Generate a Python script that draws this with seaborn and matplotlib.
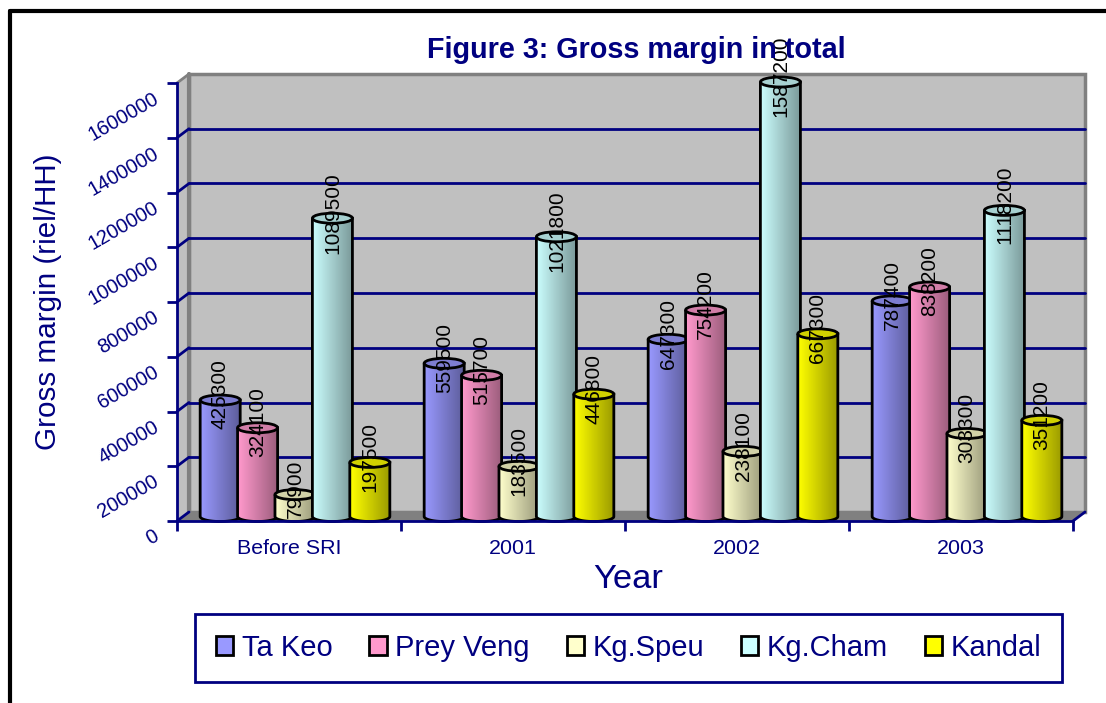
import numpy as np
import pandas as pd
import seaborn as sns
import matplotlib.pyplot as plt
from matplotlib.colors import to_rgb
from matplotlib.lines import Line2D
from matplotlib.patches import Ellipse, PathPatch, Polygon, Rectangle
from matplotlib.path import Path
from matplotlib.transforms import ScaledTranslation

years = ['Before SRI', '2001', '2002', '2003']
provinces = ['Ta Keo', 'Prey Veng', 'Kg.Speu', 'Kg.Cham', 'Kandal']
ta_keo = [425300, 559500, 647300, 787400]
prey_veng = [324100, 515700, 754200, 838200]
kg_speu = [79900, 183500, 238100, 303300]
kg_cham = [1089500, 1021800, 1587200, 1118200]
kandal = [197500, 446800, 667300, 351200]
colors = ['#9999FF', '#FF99CC', '#FFFFCC', '#CCFFFF', '#FFFF00']
y_ticks = [0, 200000, 400000, 600000, 800000, 1000000, 1200000, 1400000, 1600000]

NAVY = '#000080'
W, H = 1106, 703

df = pd.DataFrame({
    'year': years * 5,
    'province': np.repeat(provinces, 4),
    'gross': ta_keo + prey_veng + kg_speu + kg_cham + kandal,
})

sns.set_theme(style='white')
plt.rcParams['font.family'] = ['Liberation Sans', 'DejaVu Sans']

fig = plt.figure(figsize=(W / 100, H / 100), dpi=100)
ax = fig.add_axes([177 / W, 1 - 521 / H, 896 / W, 438 / H])

sns.barplot(data=df, x='year', y='gross', hue='province', order=years,
            hue_order=provinces, palette=colors, saturation=1, width=0.835,
            gap=-0.07, legend=False, ax=ax, linewidth=0)

xmin, xmax, ymin, ymax = -0.5, 3.5, 0, 1600000
ax.set_xlim(xmin, xmax)
ax.set_ylim(ymin, ymax)
ax.autoscale(False)
ax.patch.set_visible(False)

# depth of the fake 3d box, in data units
px_x = (xmax - xmin) / 896
px_y = (ymax - ymin) / 438
dx, dy = 12 * px_x, 9 * px_y

# walls and floor
ax.add_patch(Rectangle((xmin + dx, ymin + dy), xmax - xmin, ymax - ymin, fc='#C0C0C0',
                       ec='#808080', lw=2.5, zorder=0.1, clip_on=False))
ax.add_patch(Polygon([(xmin, ymin), (xmin + dx, ymin + dy), (xmin + dx, ymax + dy), (xmin, ymax)],
                     fc='#C0C0C0', ec='none', zorder=0.2, clip_on=False))
ax.add_patch(Polygon([(xmin, ymin), (xmin + dx, ymin + dy), (xmax + dx, ymin + dy), (xmax, ymin)],
                     fc='#808080', ec='none', zorder=0.2, clip_on=False))
ax.plot([xmin, xmin + dx], [ymax, ymax + dy], color='#808080', lw=2, zorder=0.3, clip_on=False)
ax.plot([xmax, xmax + dx], [ymin, ymin + dy], color=NAVY, lw=2, zorder=0.3, clip_on=False)
ax.plot([xmin + dx, xmin + dx], [ymin + dy, ymax + dy], color='#808080', lw=3, zorder=0.3, clip_on=False)

# gridlines on the back wall and the connectors to the front ticks
for t in y_ticks:
    if t > 0 and t < ymax:
        ax.plot([xmin + dx, xmax + dx], [t + dy, t + dy], color=NAVY, lw=2, zorder=0.4, clip_on=False)
    if t < ymax:
        ax.plot([xmin, xmin + dx], [t, t + dy], color=NAVY, lw=2, zorder=0.4, clip_on=False)

# turn the flat bars into cylinders
shade = np.linspace(1.0, 0.6, 48)
ell_h = 10 * px_y
order = 0
for container, color in zip(ax.containers, colors):
    rgb = np.array(to_rgb(color))
    grad = (shade[:, None] * rgb)[None, :, :]
    for bar in container:
        order += 1
        z = 1 + order * 0.1
        bar.set_x(bar.get_x() + dx / 2)
        bar.set_y(dy / 2)
        bar.set_zorder(z)
        x0, w, top = bar.get_x(), bar.get_width(), bar.get_y() + bar.get_height()
        xc = x0 + w / 2
        theta = np.linspace(np.pi, 2 * np.pi, 30)
        arc_x = xc + w / 2 * np.cos(theta)
        arc_y = dy / 2 + ell_h / 2 * np.sin(theta)
        verts = [(x0, top)] + list(zip(arc_x, arc_y)) + [(x0 + w, top), (x0, top)]
        body = PathPatch(Path(verts), fc='none', ec='black', lw=2, zorder=z + 0.02, clip_on=False)
        ax.add_patch(body)
        im = ax.imshow(grad, extent=[x0, x0 + w, 0, top], aspect='auto', zorder=z + 0.01,
                       interpolation='bilinear')
        im.set_clip_path(body)
        im.set_clip_box(fig.bbox)
        ax.add_patch(Ellipse((xc, top), w, ell_h, fc=rgb * 0.82, ec='black', lw=2,
                             zorder=z + 0.03, clip_on=False))

# value labels go over every bar
for container in ax.containers:
    for bar in container:
        ax.annotate(f'{bar.get_height():.0f}',
                    (bar.get_x() + bar.get_width() / 2, bar.get_y() + bar.get_height()),
                    xytext=(0, 4), textcoords='offset points', rotation=90,
                    ha='center', va='center', fontsize=15, color='black', zorder=20,
                    annotation_clip=False)

# axes
ax.set_xlim(xmin, xmax)
ax.set_ylim(ymin, ymax)
for side in ['top', 'right']:
    ax.spines[side].set_visible(False)
for side in ['left', 'bottom']:
    ax.spines[side].set_color(NAVY)
    ax.spines[side].set_linewidth(2)
    ax.spines[side].set_zorder(15)

ax.set_yticks(y_ticks)
ax.set_yticklabels([str(t) for t in y_ticks], rotation=30, rotation_mode='anchor',
                   ha='right', va='center', fontsize=14.5, color=NAVY)
ax.tick_params(axis='y', length=7, width=2, color=NAVY, pad=7, left=True)
for lab in ax.get_yticklabels():
    lab.set_transform(lab.get_transform() + ScaledTranslation(0, -14 / 100, fig.dpi_scale_trans))

ax.set_xticks(range(len(years)))
ax.set_xticklabels(years, fontsize=15.4, color=NAVY)
ax.set_xticks(np.arange(xmin, xmax + 1), minor=True)
ax.tick_params(axis='x', which='major', length=0, pad=13)
ax.tick_params(axis='x', which='minor', length=7, width=2, color=NAVY, bottom=True)

ax.set_xlabel('Year', fontsize=24.8, color=NAVY, va='center')
ax.xaxis.set_label_coords((628 - 177) / 896, -(580 - 521) / 438)
ax.set_ylabel('Gross margin (riel/HH)', fontsize=21.3, color=NAVY)
ax.yaxis.set_label_coords(-(177 - 48) / 896, 0.5)
ax.yaxis.label.set_va('center')

fig.suptitle('Figure 3: Gross margin in total', x=636 / W, y=1 - 50 / H, va='center',
             fontsize=20.7, fontweight='bold', color=NAVY)

handles = [Rectangle((0, 0), 1, 1, fc=c, ec='black', lw=2) for c in colors]
leg = fig.legend(handles, provinces, loc='center', bbox_to_anchor=(628.5 / W, 1 - 648 / H),
                 ncol=5, fontsize=21, frameon=True, fancybox=False, edgecolor=NAVY, framealpha=1,
                 handlelength=0.6, handleheight=0.6, handletextpad=0.28, columnspacing=1.27,
                 borderpad=0.7, borderaxespad=0, labelcolor=NAVY)
leg.get_frame().set_linewidth(2)

# outer frame of the page, only left and top show
fig.add_artist(Line2D([10 / W, 10 / W], [0, 1 - 11 / H], color='black', lw=3))
fig.add_artist(Line2D([10 / W, 1], [1 - 11 / H, 1 - 11 / H], color='black', lw=3))

fig.savefig('out.png', dpi=100)
